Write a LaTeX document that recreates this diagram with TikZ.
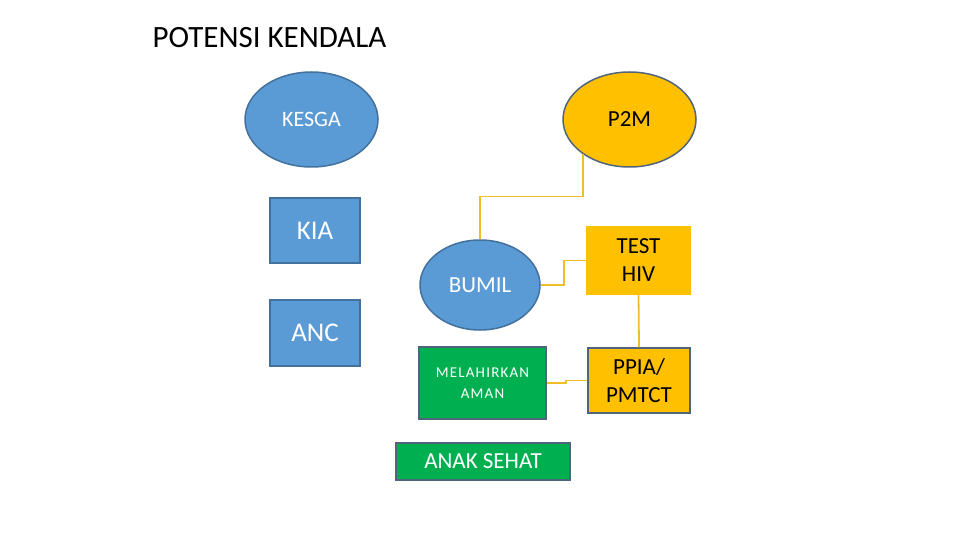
\documentclass[tikz,border=0pt]{standalone}
\usepackage{fontspec}
\setmainfont{Carlito}
\usepackage{tikz}
\usetikzlibrary{shapes, positioning}
\usetikzlibrary{calc}
\usetikzlibrary{shapes.geometric}
\definecolor{kesgablue}{RGB}{91,155,213}
\definecolor{kesgaline}{RGB}{65,113,156}
\definecolor{ptwomyellow}{RGB}{255,192,0}
\definecolor{linkyellow}{RGB}{240,190,40}
\definecolor{sehatgreen}{RGB}{0,176,80}
\definecolor{grayline}{RGB}{80,100,125}

\begin{document}
\begin{tikzpicture}[x=1pt, y=-1pt,
		oval/.style={ellipse, draw=kesgaline, line width=1.5pt, inner sep=0pt, minimum width=133, minimum height=95},
		box/.style={rectangle, draw=kesgaline, line width=1.5pt, inner sep=0pt, align=center},
		link/.style={draw=linkyellow, line width=1.8pt}]
		\useasboundingbox (0,0) rectangle (960,540);
		\node[anchor=west, font=\fontsize{31}{35}\selectfont] (title) at (149,38) {POTENSI KENDALA};
		% ovals
		\node[oval, fill=kesgablue, text=white, font=\fontsize{22}{26}\selectfont] (kesga) at (311.5,119.5) {KESGA};
		\node[oval, fill=ptwomyellow, draw=grayline, font=\fontsize{23}{27}\selectfont] (ptwom) at (629.5,119.5) {P2M};
		\node[oval, fill=kesgablue, text=white, minimum width=120, minimum height=90, font=\fontsize{23}{27}\selectfont] (bumil) at (480,285) {BUMIL};
		% left column
		\node[box, fill=kesgablue, text=white, minimum width=90, minimum height=65, font=\fontsize{27}{31}\selectfont] (kia) at (315,230.5) {KIA};
		\node[box, fill=kesgablue, text=white, minimum width=90, minimum height=66, font=\fontsize{27}{31}\selectfont] (anc) at (315,333) {ANC};
		% right column
		\node[box, fill=ptwomyellow, draw=ptwomyellow, minimum width=103, minimum height=67, font=\fontsize{23}{28}\selectfont] (test) at (638.5,260.5) {TEST\\HIV};
		\node[box, fill=ptwomyellow, draw=grayline, minimum width=102, minimum height=65, font=\fontsize{23}{28}\selectfont] (ppia) at (639,380.5) {PPIA/\\PMTCT};
		\node[box, fill=sehatgreen, draw=grayline, text=white, minimum width=127, minimum height=72, font=\fontsize{15}{21}\selectfont\addfontfeature{LetterSpace=8}] (lahir) at (482.5,383) {MELAHIRKAN\\AMAN};
		\node[box, fill=sehatgreen, draw=grayline, text=white, minimum width=174, minimum height=37, font=\fontsize{23}{27}\selectfont] (anak) at (483,461.5) {ANAK SEHAT};
		% links
		\draw[link] (ptwom.217) -- ++(0,42) -| (bumil.north);
		\draw[link] (bumil.east) -- ++(23,0) |- (test.west);
		\draw[link] (test.south) -- (ppia.north);
		\draw[link] (ppia.west) -- ++(-21,0) |- (lahir.east);
	\end{tikzpicture}
\end{document}
